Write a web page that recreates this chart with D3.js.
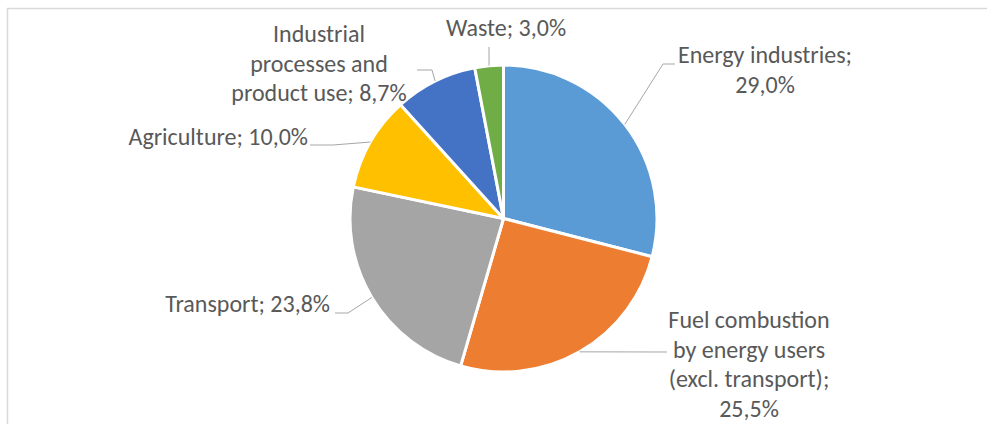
<!DOCTYPE html>
<html><head><meta charset="utf-8">
<script src="https://cdn.jsdelivr.net/npm/d3@7"></script>
<style>
  body { margin: 0; background: #fff; }
  text { font-family: Carlito, Lato, "Liberation Sans", sans-serif; fill: #595959; }
</style>
</head><body>
<svg id="chart" width="987" height="424"></svg>
<script>
// Greenhouse gas emissions by sector (share of total, %)
const categories = [
  "Energy industries",
  "Fuel combustion by energy users (excl. transport)",
  "Transport",
  "Agriculture",
  "Industrial processes and product use",
  "Waste"
];
const shares = [29.0, 25.5, 23.8, 10.0, 8.7, 3.0];
const sliceColors = ["#5B9BD5", "#ED7D31", "#A5A5A5", "#FFC000", "#4472C4", "#70AD47"];

// Label placement: text lines ({v} = formatted value), text anchor point,
// leader attach point and optional elbow.
const labelLayout = [
  { lines: ["Energy industries;", "{v}"], x: 765, y: 63, anchor: "middle",
    attach: [675, 64], elbow: [663, 64] },
  { lines: ["Fuel combustion", "by energy users", "(excl. transport);", "{v}"], x: 749, y: 328, anchor: "middle",
    attach: [667, 352], elbow: null },
  { lines: ["Transport; {v}"], x: 330, y: 312, anchor: "end",
    attach: [335, 313], elbow: [348, 313] },
  { lines: ["Agriculture; {v}"], x: 308, y: 145, anchor: "end",
    attach: [310, 145], elbow: [333, 145] },
  { lines: ["Industrial", "processes and", "product use; {v}"], x: 319, y: 42, anchor: "middle",
    attach: [417, 70], elbow: [432, 70] },
  { lines: ["Waste; {v}"], x: 506, y: 36, anchor: "middle",
    attach: [489, 47], elbow: null }
];

const width = 987, height = 424;
const cx = 503.5, cy = 218.5, radius = 153.5;
const lineHeight = 29.5;
const fmt = v => d3.format(".1f")(v).replace(".", ",") + "%";

const svg = d3.select("#chart");

// chart area frame (top and left edges visible)
svg.append("path")
  .attr("d", `M7.5,${height} V8.5 H${width}`)
  .attr("fill", "none")
  .attr("stroke", "#D9D9D9")
  .attr("stroke-width", 1.5);

const pie = d3.pie().sort(null).value(d => d.value);
const data = categories.map((name, i) => ({ name, value: shares[i], color: sliceColors[i], layout: labelLayout[i] }));
const arcs = pie(data);

const arc = d3.arc().innerRadius(0).outerRadius(radius);
const edge = d3.arc().innerRadius(radius).outerRadius(radius);

const g = svg.append("g").attr("transform", `translate(${cx},${cy})`);

g.selectAll("path.slice")
  .data(arcs)
  .join("path")
  .attr("class", "slice")
  .attr("d", arc)
  .attr("fill", d => d.data.color)
  .attr("stroke", "#fff")
  .attr("stroke-width", 3)
  .attr("stroke-linejoin", "round");

// leader lines from the slice edge at its mid-angle to the label
svg.selectAll("path.leader")
  .data(arcs)
  .join("path")
  .attr("class", "leader")
  .attr("fill", "none")
  .attr("stroke", "#A6A6A6")
  .attr("stroke-width", 1)
  .attr("d", d => {
    const [ex, ey] = edge.centroid(d);
    const pts = [[cx + ex, cy + ey]];
    if (d.data.layout.elbow) pts.push(d.data.layout.elbow);
    pts.push(d.data.layout.attach);
    return d3.line()(pts);
  });

// labels
const labels = svg.selectAll("text.label")
  .data(arcs)
  .join("text")
  .attr("class", "label")
  .attr("text-anchor", d => d.data.layout.anchor)
  .style("font-size", "24px");

labels.each(function(d) {
  const L = d.data.layout;
  d3.select(this).selectAll("tspan")
    .data(L.lines)
    .join("tspan")
    .attr("x", L.x)
    .attr("y", (s, i) => L.y + i * lineHeight)
    .text(s => s.replace("{v}", fmt(d.data.value)));
});
</script></body></html>
